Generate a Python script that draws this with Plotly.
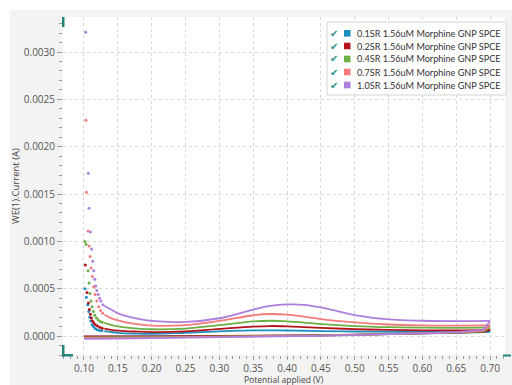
import plotly.graph_objects as go

# ---- series labels and colours ----
labels = [
    "0.1SR 1.56uM Morphine GNP SPCE",
    "0.2SR 1.56uM Morphine GNP SPCE",
    "0.4SR 1.56uM Morphine GNP SPCE",
    "0.7SR 1.56uM Morphine GNP SPCE",
    "1.0SR 1.56uM Morphine GNP SPCE",
]
colors = ["#1f8fbf", "#b3141c", "#6caf45", "#f27b7b", "#ad7fdc"]

# ---- onset of the forward scan (sparse samples, fast decay) ----
onset_x_01 = [0.1015, 0.1035, 0.1055, 0.1070, 0.1085, 0.1100, 0.1120, 0.1140, 0.1165, 0.1195, 0.1230, 0.1265]
onset_y_01 = [0.00050, 0.00041, 0.00033, 0.00026, 0.00020, 0.00016, 0.00012, 0.00010, 0.000080, 0.000068, 0.000060, 0.000055]

onset_x_02 = [0.1020, 0.1045, 0.1065, 0.1080, 0.1095, 0.1110, 0.1125, 0.1145, 0.1170, 0.1200, 0.1235, 0.1270]
onset_y_02 = [0.00075, 0.00046, 0.00035, 0.00028, 0.00023, 0.00019, 0.00016, 0.00014, 0.00012, 0.000105, 0.000092, 0.000082]

onset_x_04 = [0.1015, 0.1030, 0.1060, 0.1075, 0.1090, 0.1105, 0.1120, 0.1140, 0.1160, 0.1185, 0.1210, 0.1240, 0.1270]
onset_y_04 = [0.00100, 0.00097, 0.00069, 0.00056, 0.00045, 0.00037, 0.00031, 0.00026, 0.00022, 0.00019, 0.00017, 0.000155, 0.000145]

onset_x_07 = [0.1030, 0.1037, 0.1060, 0.1075, 0.1090, 0.1105, 0.1125, 0.1145, 0.1165, 0.1190, 0.1215, 0.1245, 0.1275]
onset_y_07 = [0.00228, 0.00152, 0.00111, 0.00095, 0.00084, 0.00072, 0.00063, 0.00052, 0.00044, 0.00037, 0.00031, 0.00027, 0.00024]

onset_x_10 = [0.1025, 0.1064, 0.1075, 0.1095, 0.1114, 0.1130, 0.1144, 0.1159, 0.1174, 0.1190, 0.1210, 0.1230, 0.1250, 0.1280]
onset_y_10 = [0.00321, 0.00172, 0.00135, 0.00110, 0.00092, 0.00079, 0.00069, 0.00060, 0.00053, 0.00048, 0.00044, 0.00040, 0.00037, 0.00033]

# ---- forward scan body ----
fwd_x = [0.13, 0.14, 0.15, 0.175, 0.20, 0.25, 0.30, 0.35, 0.375, 0.40, 0.425, 0.45, 0.50, 0.55, 0.60, 0.65, 0.70]
fwd_y_01 = [0.000052, 0.000042, 0.000034, 0.000026, 0.000023, 0.000035, 0.000050, 0.000060, 0.000061, 0.000059, 0.000056, 0.000053, 0.000048, 0.000045, 0.000044, 0.000044, 0.000046]
fwd_y_02 = [0.000078, 0.000066, 0.000058, 0.000048, 0.000042, 0.000049, 0.000075, 0.000100, 0.000106, 0.000103, 0.000095, 0.000086, 0.000073, 0.000065, 0.000061, 0.000061, 0.000066]
fwd_y_04 = [0.000140, 0.000118, 0.000102, 0.000082, 0.000072, 0.000079, 0.000115, 0.000155, 0.000162, 0.000156, 0.000142, 0.000127, 0.000106, 0.000094, 0.000089, 0.000087, 0.000091]
fwd_y_07 = [0.000225, 0.000190, 0.000165, 0.000128, 0.000110, 0.000115, 0.000160, 0.000220, 0.000233, 0.000226, 0.000205, 0.000180, 0.000145, 0.000122, 0.000112, 0.000110, 0.000112]
fwd_y_10 = [0.000320, 0.000280, 0.000240, 0.000190, 0.000160, 0.000150, 0.000188, 0.000280, 0.000318, 0.000334, 0.000330, 0.000303, 0.000222, 0.000176, 0.000162, 0.000158, 0.000160]

# ---- reverse scan (0.70 V back to 0.10 V) ----
rev_x = [0.69, 0.65, 0.60, 0.55, 0.50, 0.45, 0.40, 0.35, 0.30, 0.25, 0.20, 0.15, 0.10]
rev_y_01 = [0.000042, 0.000034, 0.000026, 0.000019, 0.000013, 0.000008, 0.000004, 0.000001, -0.000002, -0.000004, -0.000005, -0.000006, -0.000007]
rev_y_02 = [0.000045, 0.000036, 0.000027, 0.000020, 0.000014, 0.000009, 0.000005, 0.000002, 0.000000, -0.000002, -0.000003, -0.000004, -0.000004]
rev_y_04 = [0.000050, 0.000038, 0.000028, 0.000020, 0.000013, 0.000007, 0.000002, -0.000002, -0.000006, -0.000009, -0.000011, -0.000012, -0.000013]
rev_y_07 = [0.000055, 0.000040, 0.000029, 0.000020, 0.000012, 0.000005, 0.000000, -0.000005, -0.000010, -0.000014, -0.000017, -0.000019, -0.000020]
rev_y_10 = [0.000065, 0.000042, 0.000029, 0.000019, 0.000010, 0.000003, -0.000003, -0.000009, -0.000015, -0.000020, -0.000024, -0.000027, -0.000029]

onsets = [(onset_x_01, onset_y_01), (onset_x_02, onset_y_02), (onset_x_04, onset_y_04),
          (onset_x_07, onset_y_07), (onset_x_10, onset_y_10)]
forwards = [fwd_y_01, fwd_y_02, fwd_y_04, fwd_y_07, fwd_y_10]
reverses = [rev_y_01, rev_y_02, rev_y_04, rev_y_07, rev_y_10]

fig = go.Figure()
for lab, col, (ox, oy), fy, ry in zip(labels, colors, onsets, forwards, reverses):
    fig.add_trace(go.Scatter(x=ox, y=oy, mode="markers", name=lab, legendgroup=lab,
                             marker=dict(color=col, size=3), showlegend=False))
    fig.add_trace(go.Scatter(x=fwd_x, y=fy, mode="lines", legendgroup=lab, showlegend=False,
                             line=dict(color=col, width=1.8, shape="spline", smoothing=1.0)))
    fig.add_trace(go.Scatter(x=[fwd_x[-1]] + rev_x, y=[fy[-1]] + ry, mode="lines",
                             legendgroup=lab, showlegend=False,
                             line=dict(color=col, width=1.8)))

# ---- page geometry (pixels) ----
W, H = 512, 385
L, R, T, B = 63, 7, 17, 30
PW, PH = W - L - R, H - T - B


def px(x):
    return (x - L) / PW


def py(y):
    return (H - B - y) / PH


shapes = []
# white strips framing the grey widget background
shapes.append(dict(type="rect", xref="paper", yref="paper", x0=px(0), x1=px(W), y0=py(10), y1=py(0),
                   fillcolor="white", line_width=0, layer="below"))
shapes.append(dict(type="rect", xref="paper", yref="paper", x0=px(0), x1=px(10), y0=py(H), y1=py(0),
                   fillcolor="white", line_width=0, layer="below"))

# range handles on the axes
handle = "#23857a"
for x0, x1, y0, y1 in [(62, 64.5, 17, 27), (62, 64.5, 345, 356.5), (62, 73, 354, 356.5), (503, 511, 354.5, 356.5)]:
    shapes.append(dict(type="rect", xref="paper", yref="paper", x0=px(x0), x1=px(x1), y0=py(y1), y1=py(y0),
                       fillcolor=handle, line_width=0, layer="above"))

# legend box
LX0, LX1, LY0, LY1 = 327, 506, 22, 95
shapes.append(dict(type="rect", xref="paper", yref="paper", x0=px(LX0), x1=px(LX1), y0=py(LY1), y1=py(LY0),
                   fillcolor="white", line=dict(color="#d4d4d4", width=1), layer="above"))

annotations = []
row_y = [33.3, 46, 59, 72, 85]
for lab, col, ry in zip(labels, colors, row_y):
    annotations.append(dict(xref="paper", yref="paper", x=px(334), y=py(ry), text="✔", showarrow=False,
                            font=dict(family="DejaVu Sans", size=10, color="#2a8f86"),
                            xanchor="center", yanchor="middle"))
    shapes.append(dict(type="rect", xref="paper", yref="paper", x0=px(344), x1=px(350.5),
                       y0=py(ry + 3.3), y1=py(ry - 3.3), fillcolor=col, line_width=0, layer="above"))
    annotations.append(dict(xref="paper", yref="paper", x=px(355), y=py(ry), text=lab, showarrow=False,
                            font=dict(family="Lato", size=9.1, color="#333333"),
                            xanchor="left", yanchor="middle"))

# axis titles
annotations.append(dict(xref="paper", yref="paper", x=px(284), y=py(379.5), text="Potential applied (V)",
                        showarrow=False, font=dict(family="Open Sans", size=8.5, color="#444444"),
                        xanchor="center", yanchor="middle"))
annotations.append(dict(xref="paper", yref="paper", x=px(15), y=py(186), text="WE(1).Current (A)",
                        showarrow=False, textangle=-90,
                        font=dict(family="Open Sans", size=9.5, color="#444444"),
                        xanchor="center", yanchor="middle"))

axis_common = dict(
    showline=False, zeroline=False,
    showgrid=True, gridcolor="#d9d9d9", griddash="dot", gridwidth=1,
    ticks="outside", tickcolor="#9a9a9a", tickwidth=1,
    tickfont=dict(family="Open Sans", size=10, color="#555555"),
)

fig.update_layout(
    width=W, height=H,
    margin=dict(l=L, r=R, t=T, b=B),
    paper_bgcolor="#f3f3f3",
    plot_bgcolor="white",
    showlegend=False,
    shapes=shapes,
    annotations=annotations,
    xaxis=dict(range=[0.069, 0.722], tick0=0.10, dtick=0.05, tickformat=".2f",
               ticklen=4, ticklabelstandoff=0,
               minor=dict(dtick=0.01, ticks="outside", ticklen=3, tickcolor="#9a9a9a", showgrid=False),
               **axis_common),
    yaxis=dict(range=[-0.0002, 0.00337], tick0=0, dtick=0.0005, tickformat=".4f",
               ticklen=5,
               minor=dict(dtick=0.0001, ticks="outside", ticklen=3, tickcolor="#9a9a9a", showgrid=False),
               **axis_common),
)

fig.write_html("out.html")
